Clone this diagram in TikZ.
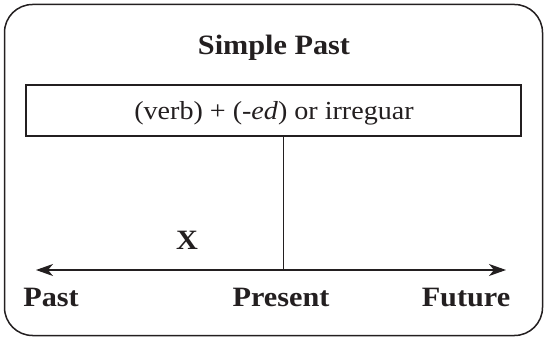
\documentclass[tikz,border=0pt]{standalone}
\usepackage{fontspec}
\setmainfont[FakeStretch=1.08]{Liberation Serif}
\usetikzlibrary{arrows.meta}
\definecolor{ink}{HTML}{231F20}
\tikzset{
  frame/.style={draw=ink, line width=1.5pt, rounded corners=28pt},
  rulebox/.style={draw=ink, line width=1.6pt, minimum width=495pt, minimum height=51pt, inner sep=0pt},
  boldlabel/.style={text=ink, font=\fontsize{28}{30}\selectfont\bfseries, anchor=base, inner sep=0pt},
  plainlabel/.style={text=ink, font=\fontsize{26}{28}\selectfont, anchor=base, inner sep=0pt},
  timeline/.style={draw=ink, line width=1.2pt, {Stealth[length=17pt,width=12pt,inset=5pt]}-{Stealth[length=17pt,width=12pt,inset=5pt]}},
  thin/.style={draw=ink, line width=1pt}
}
\begin{document}
\begin{tikzpicture}[x=1pt,y=-1pt]
\useasboundingbox (0,0) rectangle (547,342);
\draw[frame] (4.5,4.5) rectangle (542.5,335.5);
\node[boldlabel] (title) at (274,55) {Simple Past};
\node[rulebox] (box) at (273.5,110.5) {};
\node[plainlabel] (formula) at (274,120) {(verb) + (-\textit{ed}) or irreguar};
\coordinate (L) at (36,270);
\coordinate (R) at (506,270);
\coordinate (P) at (283,270);
\draw[timeline] (L) -- (R);
\draw[thin] (box.south -| P) -- (P);
\node[boldlabel] (x) at (187,250) {X};
\node[boldlabel] (past) at (51,307) {Past};
\node[boldlabel] (present) at (281,307) {Present};
\node[boldlabel] (future) at (466,307) {Future};
\end{tikzpicture}
\end{document}
